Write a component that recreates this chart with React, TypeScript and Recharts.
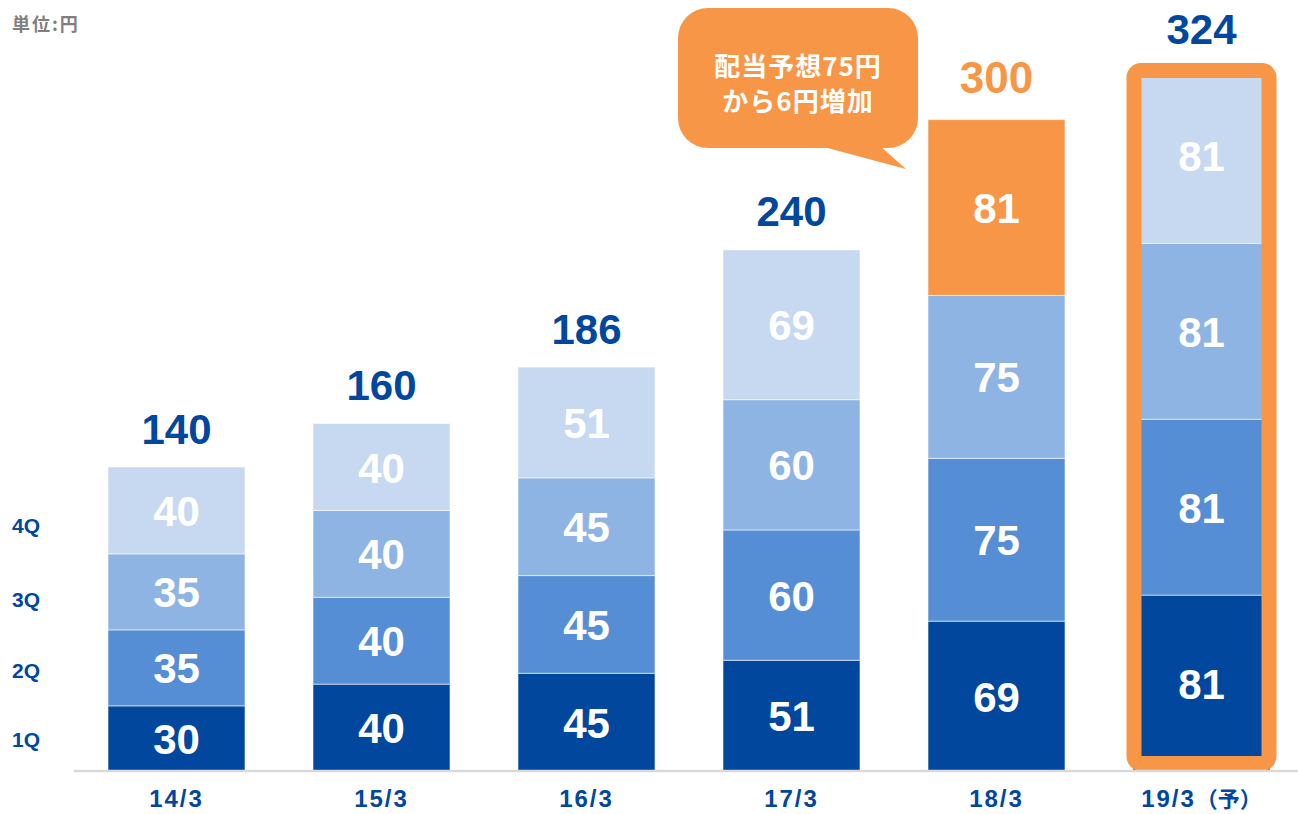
import { BarChart, Bar, XAxis, YAxis, LabelList } from 'recharts';

const categories = ['14/3', '15/3', '16/3', '17/3', '18/3', '19/3（予）'];
const q1 = [30, 40, 45, 51, 69, 81];
const q2 = [35, 40, 45, 60, 75, 81];
const q3 = [35, 40, 45, 60, 75, 81];
const q4 = [40, 40, 51, 69, 81, 81];
const totals = [140, 160, 186, 240, 300, 324];
const quarterLabels = ['4Q', '3Q', '2Q', '1Q'];

const data = categories.map((name, i) => ({
  name,
  q1: q1[i],
  q2: q2[i],
  q3: q3[i],
  q4: q4[i],
  total: totals[i],
}));

const NAVY = '#00479D';
const BLUE2 = '#558ED5';
const BLUE3 = '#8EB4E3';
const BLUE4 = '#C6D9F1';
const ORANGE = '#F79646';
const FONT = "'Liberation Sans', Arial, sans-serif";
const JP = "'Noto Sans CJK JP', sans-serif";

const CHART_H = 814;
const TOP = 11;
const XAXIS_H = 43;
const BASE_Y = CHART_H - XAXIS_H;

const HIGHLIGHT = 4; // 18/3: orange 4Q
const FORECAST = 5; // 19/3: framed bar

const Segment = (props: any) => {
  const { x, y, width, height, fill } = props;
  return (
    <rect
      x={x}
      y={y}
      width={width}
      height={height}
      fill={fill}
      stroke="#ffffff"
      strokeOpacity={0.55}
      strokeWidth={1}
    />
  );
};

const TopSegment = (props: any) => {
  const { x, y, width, height, index } = props;
  const fill = index === HIGHLIGHT ? ORANGE : BLUE4;
  const seg = (
    <rect x={x} y={y} width={width} height={height} fill={fill} stroke="#ffffff" strokeOpacity={0.55} strokeWidth={1} />
  );
  if (index !== FORECAST) return seg;
  const cx = x + width / 2;
  const sw = 15;
  const outerTop = y - 4.5;
  return (
    <g>
      {seg}
      <rect
        x={cx - 75 + sw / 2}
        y={outerTop + sw / 2}
        width={150 - sw}
        height={BASE_Y - outerTop - sw}
        rx={7}
        fill="none"
        stroke={ORANGE}
        strokeWidth={sw}
      />
    </g>
  );
};

const segLabel = (props: any) => {
  const { x, y, width, height, value } = props;
  return (
    <text
      x={x + width / 2}
      y={y + height / 2 + 1}
      fill="#ffffff"
      fontSize={42}
      fontWeight="bold"
      fontFamily={FONT}
      textAnchor="middle"
      dominantBaseline="central"
    >
      {value}
    </text>
  );
};

const totalLabel = (props: any) => {
  const { x, y, width, value, index } = props;
  const orange = index === HIGHLIGHT;
  return (
    <text
      x={x + width / 2}
      y={y - (orange ? 42 : 38)}
      fill={orange ? ORANGE : NAVY}
      fontSize={orange ? 44 : 42}
      fontWeight="bold"
      fontFamily={FONT}
      textAnchor="middle"
      dominantBaseline="central"
    >
      {value}
    </text>
  );
};

const CategoryTick = (props: any) => {
  const { x, payload } = props;
  const label: string = payload.value;
  const p = label.indexOf('（');
  if (p < 0) {
    return (
      <text x={x} y={BASE_Y + 36} fill={NAVY} fontSize={24} fontWeight="bold" fontFamily={FONT} textAnchor="middle" letterSpacing={2}>
        {label}
      </text>
    );
  }
  return (
    <text x={x} y={BASE_Y + 36} fill={NAVY} fontSize={24} fontWeight="bold" fontFamily={FONT} textAnchor="middle">
      <tspan letterSpacing={2}>{label.slice(0, p)}</tspan>
      <tspan fontFamily={JP} fontSize={22}>{label.slice(p)}</tspan>
    </text>
  );
};

const qLabelY = [525, 599, 670, 739];

export default function App() {
  return (
    <div style={{ position: 'absolute', left: 0, top: 0, width: 1298, height: 814, overflow: 'hidden', background: '#fff' }}>
      <BarChart
        width={1310}
        height={CHART_H}
        data={data}
        margin={{ top: TOP, right: 6, left: 74, bottom: 0 }}
        barSize={137}
      >
        <XAxis
          dataKey="name"
          height={XAXIS_H}
          tickLine={false}
          axisLine={{ stroke: '#D9D9D9', strokeWidth: 2.5 }}
          tick={<CategoryTick />}
          interval={0}
        />
        <YAxis hide domain={[0, 350]} />
        <Bar dataKey="q1" stackId="a" fill={NAVY} shape={<Segment />} isAnimationActive={false}>
          <LabelList dataKey="q1" content={segLabel} />
        </Bar>
        <Bar dataKey="q2" stackId="a" fill={BLUE2} shape={<Segment />} isAnimationActive={false}>
          <LabelList dataKey="q2" content={segLabel} />
        </Bar>
        <Bar dataKey="q3" stackId="a" fill={BLUE3} shape={<Segment />} isAnimationActive={false}>
          <LabelList dataKey="q3" content={segLabel} />
        </Bar>
        <Bar dataKey="q4" stackId="a" fill={BLUE4} shape={<TopSegment />} isAnimationActive={false}>
          <LabelList dataKey="q4" content={segLabel} />
          <LabelList dataKey="total" content={totalLabel} />
        </Bar>
      </BarChart>

      <svg width={1298} height={814} style={{ position: 'absolute', left: 0, top: 0, pointerEvents: 'none' }}>
        <text x={12} y={31} fill="#7F7F7F" fontSize={18} fontWeight="bold" fontFamily={JP} letterSpacing={2}>
          単位:円
        </text>
        {quarterLabels.map((q, i) => (
          <text
            key={q}
            x={12}
            y={qLabelY[i]}
            fill={NAVY}
            fontSize={21}
            fontWeight="bold"
            fontFamily={FONT}
            dominantBaseline="central"
          >
            {q}
          </text>
        ))}
        <path d="M820 146 L880 146 L906 169 Z" fill={ORANGE} />
        <rect x={678} y={8} width={240} height={140} rx={30} fill={ORANGE} />
        <text x={798} y={64} fill="#fff" fontSize={26} fontWeight="bold" fontFamily={JP} textAnchor="middle" dominantBaseline="central" letterSpacing={1}>
          配当予想75円
        </text>
        <text x={798} y={99} fill="#fff" fontSize={26} fontWeight="bold" fontFamily={JP} textAnchor="middle" dominantBaseline="central" letterSpacing={1}>
          から6円増加
        </text>
      </svg>
    </div>
  );
}
